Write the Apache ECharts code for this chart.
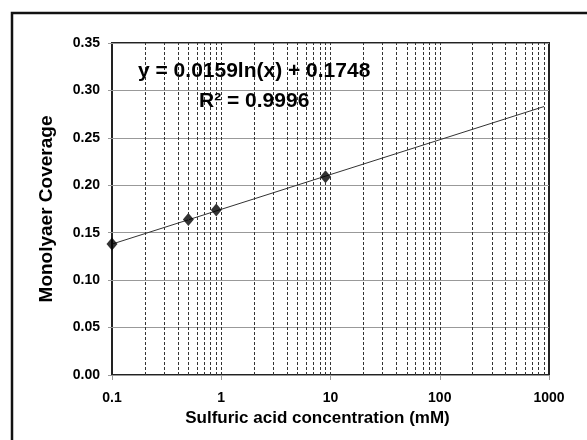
<!DOCTYPE html>
<html>
<head>
<meta charset="utf-8">
<script src="https://cdn.jsdelivr.net/npm/echarts@6/dist/echarts.min.js"></script>
<style>
  html, body { margin: 0; padding: 0; background: #fff; }
  #chart { width: 587px; height: 440px; }
</style>
</head>
<body>
<div id="chart"></div>
<script>
// measured points (mM, coverage)
const concentration = [0.1, 0.5, 0.9, 9];
const coverage = [0.138, 0.164, 0.174, 0.209];
// log trendline
const trendX = [0.1, 900];
const trendY = [0.138, 0.283];
const xTicks = [0.1, 1, 10, 100, 1000];
const equationText = 'y = 0.0159ln(x) + 0.1748';
const r2Text = 'R² = 0.9996';

// dashed minor grid: 2..9 in every decade, plus the inner decades
const minorLines = [];
for (let d = 0; d < xTicks.length - 1; d++) {
  for (let m = 1; m <= 9; m++) {
    if (d === 0 && m === 1) continue;
    minorLines.push(+(xTicks[d] * m).toPrecision(3));
  }
}

const font = '"Liberation Sans", Arial, sans-serif';
const chart = echarts.init(document.getElementById('chart'));

chart.setOption({
  animation: false,
  grid: {
    left: 112, top: 43, right: 38, bottom: 65,
    show: true, borderColor: '#222', borderWidth: 2, backgroundColor: '#fff'
  },
  xAxis: {
    type: 'log',
    logBase: 10,
    min: 0.1,
    max: 1000,
    name: 'Sulfuric acid concentration (mM)',
    nameLocation: 'middle',
    nameGap: 31,
    nameTextStyle: { fontFamily: font, fontWeight: 'bold', fontSize: 17, color: '#000', padding: [0, 26, 0, 0] },
    axisLine: { show: false },
    axisTick: { show: true, length: 5, lineStyle: { color: '#999' } },
    splitLine: { show: false },
    axisLabel: {
      margin: 16,
      fontFamily: font, fontWeight: 'bold', fontSize: 14, color: '#000',
      formatter: v => String(+(+v).toPrecision(3))
    }
  },
  yAxis: {
    type: 'value',
    min: 0,
    max: 0.35,
    interval: 0.05,
    name: 'Monolyaer Coverage',
    nameLocation: 'middle',
    nameGap: 56,
    nameTextStyle: { fontFamily: font, fontWeight: 'bold', fontSize: 19, color: '#000' },
    axisLine: { show: false },
    axisTick: { show: true, length: 4, lineStyle: { color: '#999' } },
    splitLine: { show: true, lineStyle: { color: '#999', width: 1 } },
    axisLabel: {
      margin: 12,
      fontFamily: font, fontWeight: 'bold', fontSize: 14, color: '#000',
      formatter: v => v.toFixed(2)
    }
  },
  series: [
    {
      type: 'line',
      data: [],
      silent: true,
      markLine: {
        silent: true,
        symbol: 'none',
        label: { show: false },
        lineStyle: { color: '#333', width: 1, type: [3, 2] },
        data: minorLines.map(v => ({ xAxis: v }))
      }
    },
    {
      type: 'line',
      data: trendX.map((x, i) => [x, trendY[i]]),
      showSymbol: false,
      lineStyle: { color: '#333', width: 1 },
      z: 3
    },
    {
      type: 'scatter',
      data: concentration.map((x, i) => [x, coverage[i]]),
      symbol: 'diamond',
      symbolSize: [11, 13],
      itemStyle: { color: '#000' },
      z: 4
    }
  ],
  graphic: [
    {
      type: 'rect',
      shape: { x: 12, y: 13, width: 700, height: 600 },
      style: { fill: 'none', stroke: '#111', lineWidth: 2.5 },
      silent: true
    },
    {
      type: 'text', left: 138, top: 61, z: 10,
      style: { text: equationText, font: 'bold 21px ' + font, fill: '#000' }
    },
    {
      type: 'text', left: 199, top: 91, z: 10,
      style: { text: r2Text, font: 'bold 21px ' + font, fill: '#000' }
    }
  ]
});
</script>
</body>
</html>
